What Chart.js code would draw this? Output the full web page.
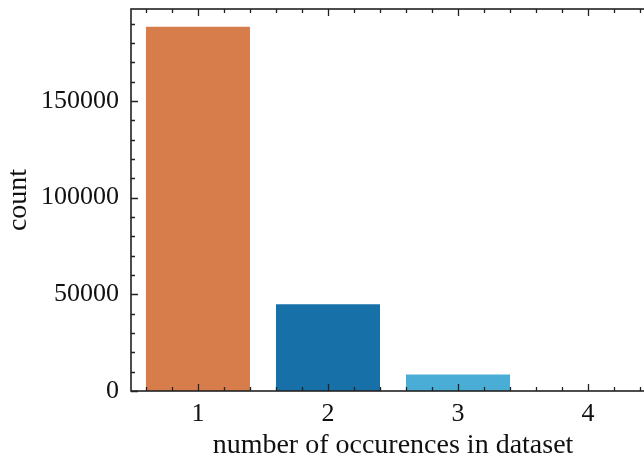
<!DOCTYPE html>
<html>
<head>
<meta charset="utf-8">
<script src="https://cdn.jsdelivr.net/npm/chart.js@4.4.0/dist/chart.umd.min.js"></script>
<style>
html,body{margin:0;padding:0;background:#fff;overflow:hidden;width:644px;height:459px;}
#wrap{width:662px;height:459px;}
</style>
</head>
<body>
<div id="wrap"><canvas id="c" width="662" height="459"></canvas></div>
<script>
const categories = [1, 2, 3, 4];
const counts = [188300, 44900, 8500, 150];
const barColors = ['#D67D4B', '#1771A8', '#4AADD6', '#BBBBBB'];
const yTickValues = [0, 50000, 100000, 150000];
const xTickValues = [1, 2, 3, 4];

const FONT = '"Liberation Serif", "DejaVu Serif", serif';

const inwardTicks = {
  id: 'inwardTicks',
  afterDatasetsDraw(chart) {
    const ctx = chart.ctx;
    const a = chart.chartArea;
    const xs = chart.scales.x, ys = chart.scales.y;
    ctx.save();
    ctx.strokeStyle = '#222';
    ctx.lineWidth = 1.3;
    for (let i = 0; i <= 30; i++) {
      const v = Math.round((0.4 + i * 0.2) * 10) / 10;
      if (v < xs.min || v > xs.max) continue;
      const px = Math.round(xs.getPixelForValue(v)) + 0.5;
      const major = Math.abs(v - Math.round(v)) < 1e-6;
      const len = major ? 7 : 4;
      ctx.beginPath();
      ctx.moveTo(px, a.bottom); ctx.lineTo(px, a.bottom - len);
      ctx.moveTo(px, a.top); ctx.lineTo(px, a.top + len);
      ctx.stroke();
    }
    for (let v = 0; v <= ys.max; v += 10000) {
      const py = Math.round(ys.getPixelForValue(v)) + 0.5;
      const major = v % 50000 === 0;
      const len = major ? 7 : 4;
      ctx.beginPath();
      ctx.moveTo(a.left, py); ctx.lineTo(a.left + len, py);
      ctx.moveTo(a.right, py); ctx.lineTo(a.right - len, py);
      ctx.stroke();
    }
    ctx.lineWidth = 1.6;
    ctx.strokeRect(a.left, a.top, a.right - a.left, a.bottom - a.top);
    ctx.restore();
  }
};

new Chart(document.getElementById('c'), {
  type: 'bar',
  data: {
    datasets: [{
      data: categories.map((c, i) => ({x: c, y: counts[i]})),
      backgroundColor: barColors,
      borderWidth: 0,
      barPercentage: 0.8,
      categoryPercentage: 1.0
    }]
  },
  options: {
    responsive: false,
    animation: false,
    events: [],
    layout: {padding: {top: 9, right: 7, left: 0, bottom: 0}},
    plugins: {legend: {display: false}, tooltip: {enabled: false}},
    scales: {
      x: {
        type: 'linear',
        offset: false,
        min: 0.485,
        max: 4.515,
        grid: {display: false, drawTicks: false, offset: false},
        border: {display: false},
        afterBuildTicks: s => { s.ticks = xTickValues.map(v => ({value: v})); },
        afterFit: s => { s.height = 68; s.paddingLeft = 0; s.paddingRight = 0; },
        ticks: {
          padding: 8,
          color: '#111',
          font: {family: FONT, size: 26},
          callback: v => String(v)
        },
        title: {
          display: true,
          text: 'number of occurences in dataset',
          color: '#111',
          font: {family: FONT, size: 28},
          padding: {top: 3, bottom: -3}
        }
      },
      y: {
        type: 'linear',
        min: 0,
        max: 197500,
        grid: {display: false, drawTicks: false},
        border: {display: false},
        afterBuildTicks: s => { s.ticks = yTickValues.map(v => ({value: v})); },
        afterFit: s => { s.width = 131; s.paddingTop = 0; s.paddingBottom = 0; },
        ticks: {
          padding: 12,
          color: '#111',
          font: {family: FONT, size: 26},
          callback: v => String(v)
        },
        title: {
          display: true,
          text: 'count',
          color: '#111',
          font: {family: FONT, size: 28},
          padding: {top: 2, bottom: 0}
        }
      }
    }
  },
  plugins: [inwardTicks]
});
</script>
</body>
</html>
